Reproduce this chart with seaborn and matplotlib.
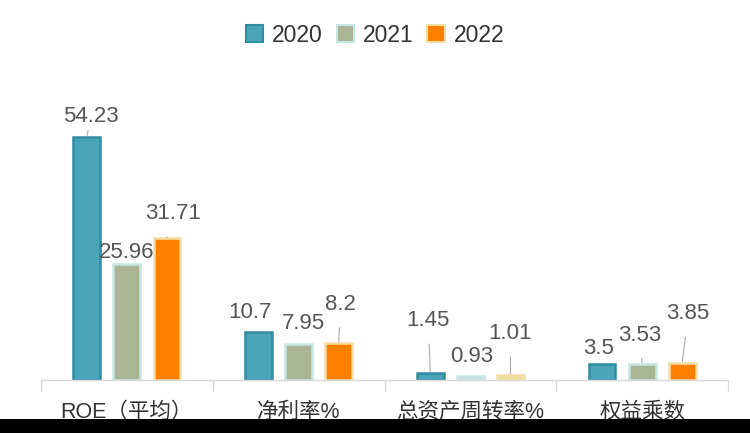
import pandas as pd
import numpy as np
import matplotlib.pyplot as plt
import matplotlib.patches as mpatches
import seaborn as sns

# data
categories = ["ROE（平均）", "净利率%", "总资产周转率%", "权益乘数"]
years = ["2020", "2021", "2022"]
v2020 = [54.23, 10.7, 1.45, 3.5]
v2021 = [25.96, 7.95, 0.93, 3.53]
v2022 = [31.71, 8.2, 1.01, 3.85]
labels2020 = ["54.23", "10.7", "1.45", "3.5"]
labels2021 = ["25.96", "7.95", "0.93", "3.53"]
labels2022 = ["31.71", "8.2", "1.01", "3.85"]

fills = ["#4aa5ba", "#aab596", "#ff8000"]
edges = ["#2f8ea3", "#c6e6e4", "#f2dea2"]
small_fills = ["#4aa5ba", "#c6e6e4", "#f2dea2"]

# label offsets (pixels from bar top) and whether a leader line is drawn
offsets = {
    "2020": [(4, 20, True), (-9, 20, False), (-2, 53, True), (-4, 16, False)],
    "2021": [(0, 11, False), (5, 21, False), (1, 19, False), (-2, 29, True)],
    "2022": [(6, 24, True), (2, 39, True), (0, 42, True), (6, 49, True)],
}

rows = []
for y, vals in zip(years, [v2020, v2021, v2022]):
    for c, v in zip(categories, vals):
        rows.append({"指标": c, "年份": y, "值": v})
df = pd.DataFrame(rows)

sns.set_theme(style="white")
plt.rcParams["font.family"] = ["Liberation Sans", "Noto Sans CJK SC", "DejaVu Sans"]

fig = plt.figure(figsize=(7.5, 4.33), dpi=100)
ax = fig.add_axes([41 / 750, 53 / 433, 687 / 750, 269 / 433])

sns.barplot(data=df, x="指标", y="值", hue="年份", palette=fills, saturation=1,
            width=0.7, gap=0.33, linewidth=1.8, ax=ax, legend=False)

label_sets = [labels2020, labels2021, labels2022]
for k, cont in enumerate(ax.containers):
    for i, bar in enumerate(cont):
        bar.set_edgecolor(edges[k])
        if bar.get_height() < 2:
            bar.set_facecolor(small_fills[k])
        x = bar.get_x() + bar.get_width() / 2
        top = bar.get_height()
        dx, dy, line = offsets[years[k]][i]
        ax.annotate(label_sets[k][i], xy=(x, top), xytext=(dx, dy),
                    textcoords="offset pixels", ha="center", va="center",
                    fontsize=16, color="#555555",
                    arrowprops=dict(arrowstyle="-", color="#aaaaaa", lw=0.8,
                                    shrinkA=7, shrinkB=1) if line else None)

ax.set_ylim(0, 60)
ax.set_xlim(-0.5, 3.5)
ax.set_xlabel("")
ax.set_ylabel("")
ax.set_yticks([])
sns.despine(ax=ax, left=True)
ax.spines["bottom"].set_color("#d9d9d9")
ax.spines["bottom"].set_linewidth(1)
ax.set_xticks(range(len(categories)))
ax.set_xticklabels(categories, fontsize=15.5, color="#333333")
ax.tick_params(axis="x", which="major", bottom=False, length=0, pad=16)
ax.set_xticks(np.arange(-0.5, 4, 1), minor=True)
ax.tick_params(axis="x", which="minor", bottom=True, length=8, color="#d9d9d9", width=1)

handles = [mpatches.Patch(facecolor=f, edgecolor=e, linewidth=1.5) for f, e in zip(fills, edges)]
fig.legend(handles, years, loc="center", bbox_to_anchor=(0.5, 1 - 35 / 433), ncol=3,
           frameon=False, fontsize=16.5, handlelength=0.75, handleheight=0.75,
           handletextpad=0.4, columnspacing=0.6, labelcolor="#333333")

fig.patches.append(mpatches.Rectangle((0, 0), 1, 14 / 433, transform=fig.transFigure,
                                      facecolor="black", edgecolor="none"))

fig.savefig("out.png", dpi=100)
